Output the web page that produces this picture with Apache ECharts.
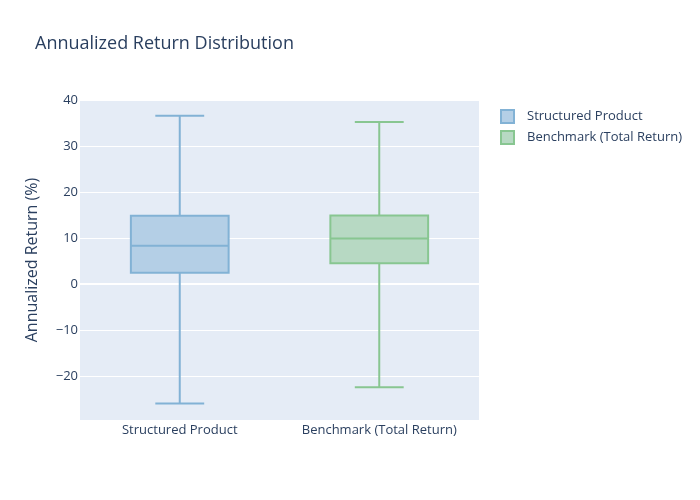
<!DOCTYPE html>
<html>
<head>
<meta charset="utf-8">
<script src="https://cdn.jsdelivr.net/npm/echarts@6/dist/echarts.min.js"></script>
<style>
  html, body { margin: 0; padding: 0; background: #fff; }
  #chart { width: 700px; height: 500px; }
</style>
</head>
<body>
<div id="chart"></div>
<script>
// box stats: [min, q1, median, q3, max]
var categories = ['Structured Product', 'Benchmark (Total Return)'];
var structuredStats = [-26.0, 2.45, 8.3, 14.85, 36.6];
var benchmarkStats = [-22.5, 4.5, 9.85, 14.9, 35.2];

var lineColors = ['#82b2d5', '#88c691'];
var fillColors = ['#b4cfe6', '#b7d9c3'];
var fontFam = '"Open Sans", "Noto Sans", sans-serif';
var textColor = '#2a3f5f';

function boxItem(params, api) {
    var x = api.value(0);
    var lo = api.coord([x, api.value(1)]);
    var q1 = api.coord([x, api.value(2)]);
    var md = api.coord([x, api.value(3)]);
    var q3 = api.coord([x, api.value(4)]);
    var hi = api.coord([x, api.value(5)]);
    var band = api.size([1, 0])[0];
    var bw = band * 0.49;
    var cw = bw / 2;
    var cx = md[0];
    var idx = params.seriesIndex - 1;
    var stroke = { stroke: lineColors[idx], lineWidth: 2, fill: null };
    return {
        type: 'group',
        children: [
            { type: 'line', shape: { x1: cx, y1: hi[1], x2: cx, y2: q3[1] }, style: stroke },
            { type: 'line', shape: { x1: cx, y1: q1[1], x2: cx, y2: lo[1] }, style: stroke },
            { type: 'line', shape: { x1: cx - cw / 2, y1: hi[1], x2: cx + cw / 2, y2: hi[1] }, style: stroke },
            { type: 'line', shape: { x1: cx - cw / 2, y1: lo[1], x2: cx + cw / 2, y2: lo[1] }, style: stroke },
            { type: 'rect', shape: { x: cx - bw / 2, y: q3[1], width: bw, height: q1[1] - q3[1] },
              style: { fill: fillColors[idx], stroke: lineColors[idx], lineWidth: 2 } },
            { type: 'line', shape: { x1: cx - bw / 2, y1: md[1], x2: cx + bw / 2, y2: md[1] }, style: stroke }
        ]
    };
}

var chart = echarts.init(document.getElementById('chart'));
chart.setOption({
    backgroundColor: '#fff',
    animation: false,
    title: {
        text: 'Annualized Return Distribution',
        left: 30, top: 30,
        textStyle: { fontFamily: fontFam, fontSize: 18, fontWeight: 'normal', color: textColor }
    },
    legend: {
        orient: 'vertical',
        left: 495, top: 104,
        itemWidth: 13, itemHeight: 13, itemGap: 6,
        textStyle: { fontFamily: fontFam, fontSize: 13, color: textColor, padding: [0, 0, 0, 8] },
        data: [
            { name: categories[0], icon: 'rect', itemStyle: { color: fillColors[0], borderColor: lineColors[0], borderWidth: 2 } },
            { name: categories[1], icon: 'rect', itemStyle: { color: fillColors[1], borderColor: lineColors[1], borderWidth: 2 } }
        ]
    },
    grid: {
        left: 80, right: 221, top: 100, bottom: 80,
        show: true, backgroundColor: '#e5ecf6', borderWidth: 0
    },
    xAxis: {
        type: 'category',
        data: categories,
        axisLine: { show: false },
        axisTick: { show: false },
        axisLabel: { fontFamily: fontFam, fontSize: 13, color: textColor, margin: 4, interval: 0, hideOverlap: false }
    },
    yAxis: {
        type: 'value',
        min: -29.6, max: 40,
        name: 'Annualized Return (%)',
        nameLocation: 'middle',
        nameGap: 40,
        nameTextStyle: { fontFamily: fontFam, fontSize: 16, color: textColor },
        axisLine: { show: false },
        axisTick: { show: false },
        axisLabel: {
            fontFamily: fontFam, fontSize: 13, color: textColor, margin: 2,
            showMinLabel: false,
            formatter: function (v) { return String(v).replace('-', '\u2212'); }
        },
        splitLine: { showMinLine: false, lineStyle: { color: '#fff', width: 1 } }
    },
    series: [
        {
            type: 'line', data: [], z: 1, silent: true,
            markLine: {
                z: 1,
                symbol: 'none', silent: true, label: { show: false },
                lineStyle: { color: '#fff', width: 2, type: 'solid' },
                data: [{ yAxis: 0 }]
            }
        },
        {
            name: categories[0], type: 'custom', z: 3,
            renderItem: boxItem,
            encode: { x: 0, y: [1, 2, 3, 4, 5] },
            data: [[0].concat(structuredStats)]
        },
        {
            name: categories[1], type: 'custom', z: 3,
            renderItem: boxItem,
            encode: { x: 0, y: [1, 2, 3, 4, 5] },
            data: [[1].concat(benchmarkStats)]
        }
    ]
});
</script>
</body>
</html>
